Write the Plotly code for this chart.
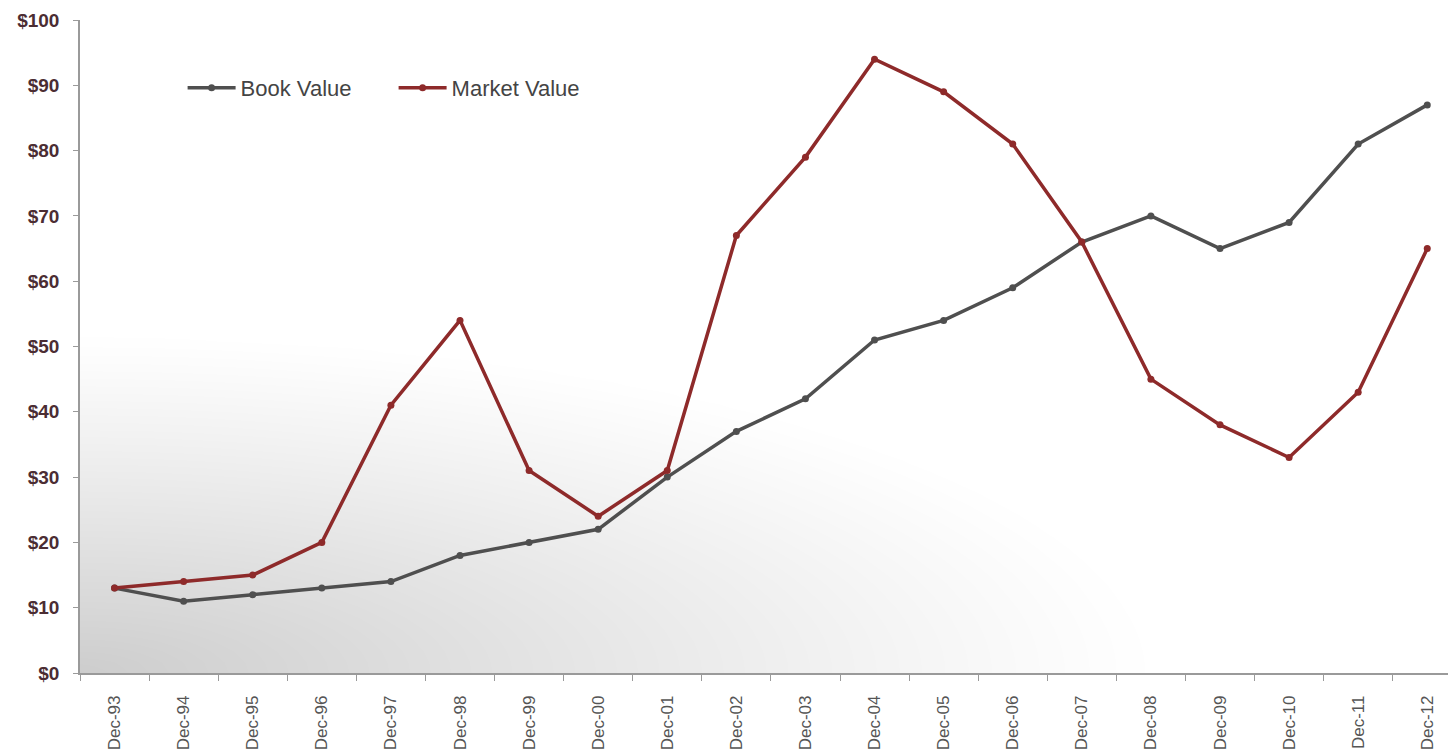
import numpy as np
import plotly.graph_objects as go

# Year-end labels and per-share values
periods = ["Dec-93", "Dec-94", "Dec-95", "Dec-96", "Dec-97", "Dec-98", "Dec-99",
           "Dec-00", "Dec-01", "Dec-02", "Dec-03", "Dec-04", "Dec-05", "Dec-06",
           "Dec-07", "Dec-08", "Dec-09", "Dec-10", "Dec-11", "Dec-12"]
book_value = [13, 11, 12, 13, 14, 18, 20, 22, 30, 37, 42, 51, 54, 59, 66, 70, 65, 69, 81, 87]
market_value = [13, 14, 15, 20, 41, 54, 31, 24, 31, 67, 79, 94, 89, 81, 66, 45, 38, 33, 43, 65]
y_ticks = [0, 10, 20, 30, 40, 50, 60, 70, 80, 90, 100]
y_tick_text = ["$" + str(v) for v in y_ticks]

idx = list(range(len(periods)))
x_lo, x_hi = -0.5, 19.3

# Soft grey wash rising from the lower-left corner of the plot area
gx = np.linspace(x_lo, x_hi, 90)
gy = np.linspace(0, 100, 60)
GX, GY = np.meshgrid(gx, gy)
px = (GX - x_lo) * 69.05
py = GY * 6.53
r = np.sqrt((px / 1080.0) ** 2 + (py / 340.0) ** 2)
shade = np.clip(1 - r, 0, 1) ** 1.1

fig = go.Figure()
fig.add_trace(go.Heatmap(
    x=gx, y=gy, z=shade, zmin=0, zmax=1, zsmooth="best",
    colorscale=[[0, "#ffffff"], [1, "#cdcdcd"]], showscale=False,
    hoverinfo="skip", showlegend=False,
))

fig.add_trace(go.Scatter(
    x=idx, y=book_value, name="Book Value", mode="lines+markers",
    line=dict(color="#4f4f4f", width=3.5),
    marker=dict(color="#4f4f4f", size=7),
))
fig.add_trace(go.Scatter(
    x=idx, y=market_value, name="Market Value", mode="lines+markers",
    line=dict(color="#8e2a2a", width=3.5),
    marker=dict(color="#8e2a2a", size=7),
))

fig.update_layout(
    width=1448, height=756,
    margin=dict(l=80, r=0, t=20, b=83),
    paper_bgcolor="white", plot_bgcolor="white",
    font=dict(family="Liberation Sans, Arial, sans-serif"),
    legend=dict(
        orientation="h", x=0.075, y=0.896, xanchor="left", yanchor="middle",
        font=dict(size=22, color="#444444"), bgcolor="rgba(0,0,0,0)",
        itemwidth=48, entrywidth=148, entrywidthmode="pixels",
        traceorder="normal",
    ),
)

fig.update_xaxes(
    range=[x_lo, x_hi], tickmode="array", tickvals=idx, ticktext=periods,
    tickangle=-90, ticks="", showgrid=False, zeroline=False,
    showline=True, linecolor="#9a9a9a", linewidth=1.5,
    ticklabelstandoff=14,
    tickfont=dict(size=17, color="#555555"),
    minor=dict(tickmode="array", tickvals=[i - 0.5 for i in idx] + [19.5],
               ticks="outside", ticklen=6, tickcolor="#9a9a9a", showgrid=False),
)
fig.update_yaxes(
    range=[0, 100], tickmode="array", tickvals=y_ticks, ticktext=y_tick_text,
    ticks="outside", ticklen=5, tickcolor="#9a9a9a", showgrid=False,
    zeroline=False, showline=True, linecolor="#9a9a9a", linewidth=1.5,
    ticklabelstandoff=10,
    tickfont=dict(size=19, color="#4b2d33", family="Liberation Sans, Arial, sans-serif", weight="bold"),
)

fig.write_html("out.html")
